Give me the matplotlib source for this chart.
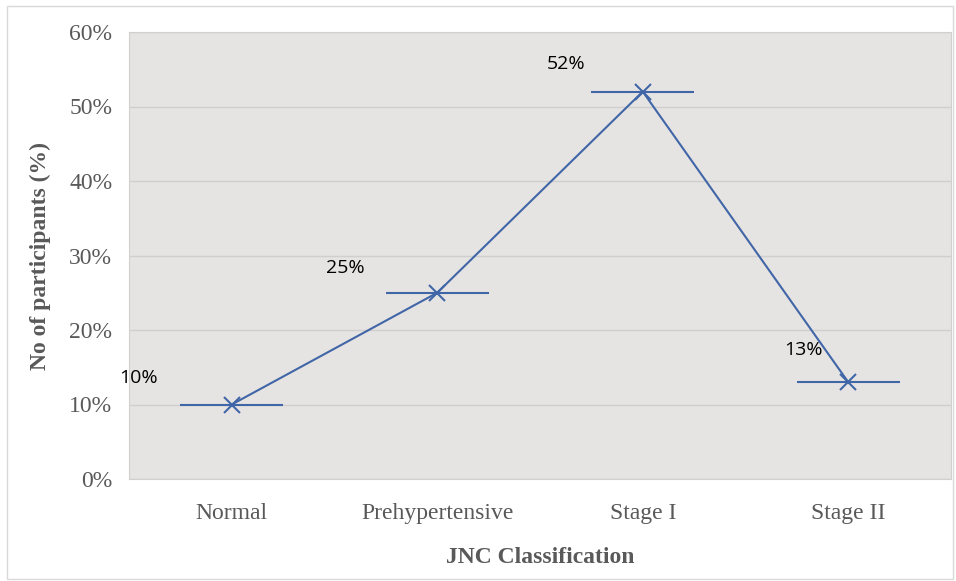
import matplotlib.pyplot as plt
from matplotlib.patches import Rectangle

categories = ['Normal', 'Prehypertensive', 'Stage I', 'Stage II']
participants = [10, 25, 52, 13]
labels = ['10%', '25%', '52%', '13%']
label_offsets = [(-67, 19), (-66, 18), (-55, 20), (-32, 23)]

fig = plt.figure(figsize=(9.56, 5.81), dpi=100)
ax = fig.add_axes([129 / 956, 1 - 479 / 581, 822 / 956, 447 / 581])

# outer chart frame
fig.patches.append(Rectangle((7 / 956, 2 / 581), 946 / 956, 573 / 581,
                             transform=fig.transFigure, fill=False,
                             edgecolor='#d9d9d9', linewidth=1))

ax.set_facecolor('#e6e4e2')
x = range(len(categories))
ax.errorbar(x, participants, xerr=0.25, color='#4166a8', linewidth=1.5,
            marker='x', markersize=11, markeredgewidth=1.5, capsize=0,
            elinewidth=1.5, zorder=3)

for i, (v, t) in enumerate(zip(participants, labels)):
    ax.annotate(t, (i, v), xytext=label_offsets[i], textcoords='offset points',
                ha='center', va='center', fontsize=14, family='Open Sans',
                color='black')

ax.set_xlim(-0.5, 3.5)
ax.set_ylim(0, 60)
ax.set_yticks(range(0, 61, 10))
ax.set_yticklabels([f'{v}%' for v in range(0, 61, 10)])
ax.set_xticks(list(x))
ax.set_xticklabels(categories)
ax.yaxis.grid(True, color='#cfcfcf', linewidth=1)
ax.set_axisbelow(True)
ax.tick_params(length=0, labelsize=17, labelcolor='#595959', pad=12)
for lab in ax.get_xticklabels() + ax.get_yticklabels():
    lab.set_family('Liberation Serif')
ax.tick_params(axis='x', pad=17)
for s in ax.spines.values():
    s.set_color('#d0d0d0')

ax.set_xlabel('JNC Classification', family='Liberation Serif', fontsize=17,
              fontweight='bold', color='#595959', labelpad=17)
ax.set_ylabel('No of participants (%)', family='Liberation Serif', fontsize=17,
              fontweight='bold', color='#595959', labelpad=13)

fig.savefig('out.png', dpi=100)
